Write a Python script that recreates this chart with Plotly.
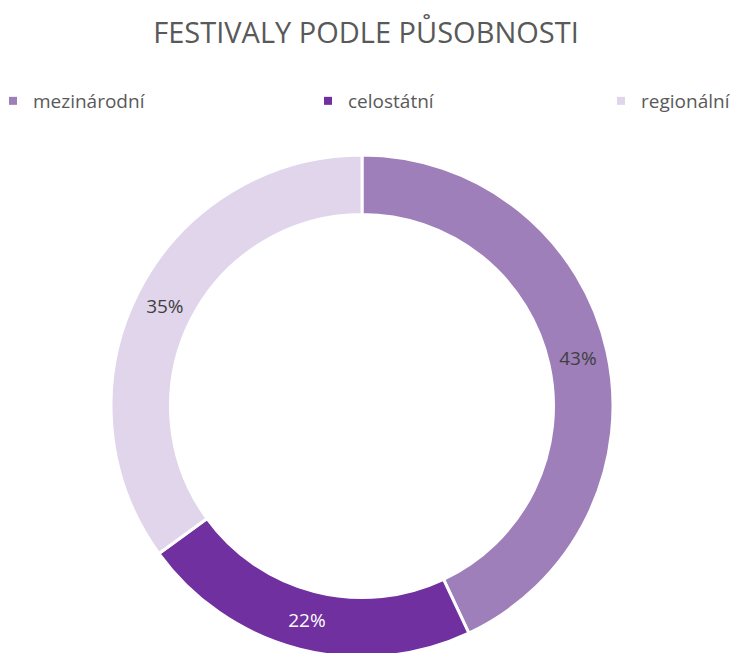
import plotly.graph_objects as go

categories = ["mezinárodní", "celostátní", "regionální"]
values = [43, 22, 35]
slice_colors = ["#9E7FB9", "#7030A0", "#E0D5EB"]
label_colors = ["#404040", "#FFFFFF", "#404040"]
title_text = "FESTIVALY PODLE PŮSOBNOSTI"

W, H = 738, 653
FONT = "Open Sans"

# pie placement (figure pixels)
cx, cy_top, r = 354, 398, 251

fig = go.Figure()
fig.add_trace(go.Pie(
    labels=categories,
    values=values,
    sort=False,
    direction="clockwise",
    rotation=0,
    hole=0.763,
    marker=dict(colors=slice_colors, line=dict(color="white", width=3)),
    texttemplate="%{percent:.0%}",
    textposition="inside",
    insidetextorientation="horizontal",
    textfont=dict(family=FONT, size=19, color=label_colors),
    domain=dict(x=[(cx - r) / W, (cx + r) / W],
                y=[(H - cy_top - r) / H, (H - cy_top + r) / H]),
    hoverinfo="label+percent",
    showlegend=False,
))

# legend entries, one legend per category so they spread across the width
legend_ids = ["legend", "legend2", "legend3"]
legend_x_px = [-15, 300, 593]
for name, col, lid in zip(categories, slice_colors, legend_ids):
    fig.add_trace(go.Scatter(
        x=[None], y=[None], mode="markers", name=name,
        marker=dict(symbol="square", size=8, color=col),
        legend=lid, showlegend=True, hoverinfo="skip",
    ))

layout_legends = {}
for lid, lx in zip(legend_ids, legend_x_px):
    layout_legends[lid] = dict(
        orientation="h", x=lx / W, xanchor="left",
        y=1 - 93 / H, yanchor="middle",
        font=dict(family=FONT, size=19, color="#595959"),
        bgcolor="rgba(0,0,0,0)", itemwidth=30,
        itemclick=False, itemdoubleclick=False,
    )

fig.update_layout(
    width=W, height=H,
    margin=dict(l=0, r=0, t=0, b=0, autoexpand=False),
    paper_bgcolor="white",
    plot_bgcolor="white",
    xaxis=dict(visible=False),
    yaxis=dict(visible=False),
    title=dict(text=title_text, x=358 / W, xanchor="center", y=1 - 25 / H, yanchor="middle",
               font=dict(family=FONT, size=29, color="#595959")),
    **layout_legends,
)

fig.write_html("out.html")
